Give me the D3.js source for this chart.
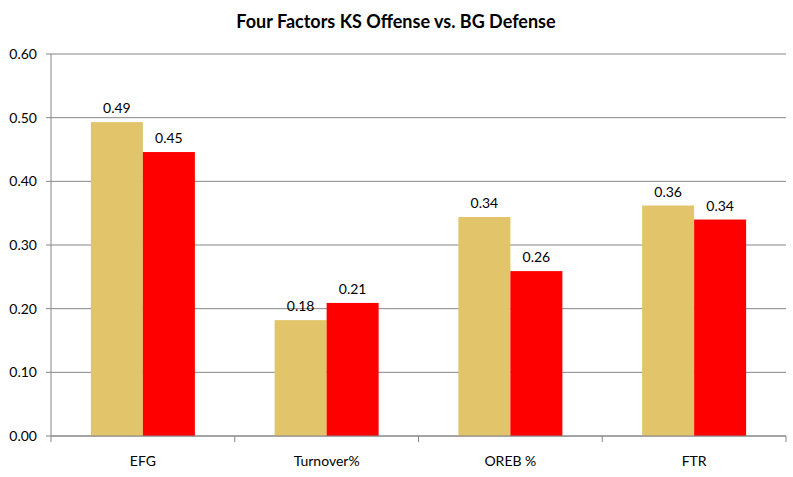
<!DOCTYPE html>
<html><head><meta charset="utf-8">
<script src="https://cdn.jsdelivr.net/npm/d3@7"></script>
<style>body{margin:0;background:#fff}svg{font-family:Lato,"Open Sans",sans-serif}</style>
</head><body><svg id="c" width="793" height="477"></svg>
<script>
const categories = ["EFG","Turnover%","OREB %","FTR"];
const ksOffense = [0.493,0.182,0.344,0.362];
const bgDefense = [0.446,0.209,0.259,0.340];
const labelsKS = ["0.49","0.18","0.34","0.36"];
const labelsBG = ["0.45","0.21","0.26","0.34"];
const yTicks = [0,0.1,0.2,0.3,0.4,0.5,0.6];

const svg = d3.select("#c");
const L=51,R=786,T=54,B=436;
const x = d3.scaleBand().domain(categories).range([L,R]);
const y = d3.scaleLinear().domain([0,0.6]).range([B,T]);
const bw = 52;

svg.append("text").attr("x",396).attr("y",28).attr("text-anchor","middle")
  .attr("font-size",18).attr("font-weight","bold").text("Four Factors KS Offense vs. BG Defense");

svg.selectAll(".g").data(yTicks).enter().append("line")
  .attr("x1",L).attr("x2",R).attr("y1",d=>y(d)).attr("y2",d=>y(d))
  .attr("stroke","#868686").attr("stroke-width",1);
svg.selectAll(".yl").data(yTicks).enter().append("text")
  .attr("x",37).attr("y",d=>y(d)+5).attr("text-anchor","end").attr("font-size",14)
  .text(d=>d.toFixed(2));
svg.selectAll(".yt").data(yTicks).enter().append("line")
  .attr("x1",L-5).attr("x2",L).attr("y1",d=>y(d)).attr("y2",d=>y(d)).attr("stroke","#868686");
svg.append("line").attr("x1",L).attr("x2",L).attr("y1",T).attr("y2",B).attr("stroke","#868686");

const series=[[ksOffense,"#E2C46A",labelsKS,-1],[bgDefense,"#FF0000",labelsBG,0]];
series.forEach(([vals,col,labs,off])=>{
  svg.selectAll(null).data(categories).enter().append("rect")
    .attr("x",(d)=>x(d)+x.bandwidth()/2+off*bw).attr("width",bw)
    .attr("y",(d,i)=>y(vals[i])).attr("height",(d,i)=>B-y(vals[i])).attr("fill",col);
  svg.selectAll(null).data(categories).enter().append("text")
    .attr("x",(d)=>x(d)+x.bandwidth()/2+off*bw+bw/2).attr("y",(d,i)=>y(vals[i])-9)
    .attr("text-anchor","middle").attr("font-size",14).text((d,i)=>labs[i]);
});

svg.append("line").attr("x1",L).attr("x2",R).attr("y1",B).attr("y2",B).attr("stroke","#868686");
svg.selectAll(".xt").data(categories).enter().append("line")
  .attr("x1",d=>x(d)+x.bandwidth()).attr("x2",d=>x(d)+x.bandwidth()).attr("y1",B).attr("y2",B+6).attr("stroke","#868686");
svg.append("line").attr("x1",L).attr("x2",L).attr("y1",B).attr("y2",B+6).attr("stroke","#868686");
svg.selectAll(".xl").data(categories).enter().append("text")
  .attr("x",d=>x(d)+x.bandwidth()/2).attr("y",B+30).attr("text-anchor","middle").attr("font-size",14).text(d=>d);
</script></body></html>
